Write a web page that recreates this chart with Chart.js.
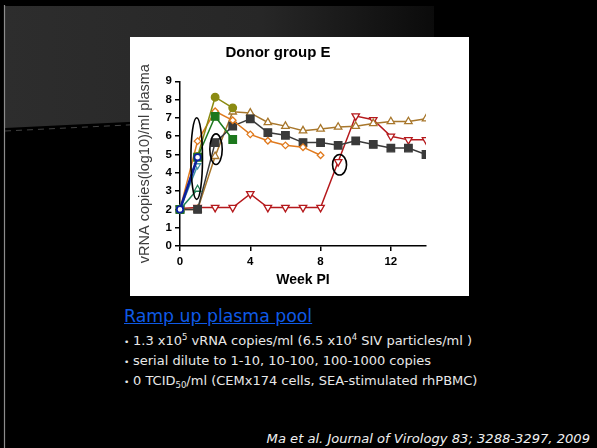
<!DOCTYPE html>
<html>
<head>
<meta charset="utf-8">
<script src="https://cdn.jsdelivr.net/npm/chart.js@4.4.1/dist/chart.umd.min.js"></script>
<style>
  html, body { margin: 0; padding: 0; background: #000; }
  body { width: 597px; height: 448px; position: relative; overflow: hidden; font-family: "DejaVu Sans", sans-serif; }
  #deco { position: absolute; left: 0; top: 0; }
  #chartBox { position: absolute; left: 130px; top: 37px; width: 339px; height: 259px; background: #fff; }
  .heading { position: absolute; left: 124px; top: 308px; font-size: 17.3px; line-height: 17.3px; color: #0f5ae6; text-decoration: underline; white-space: nowrap; }
  .bullet { position: absolute; left: 124px; font-size: 13px; line-height: 20px; color: #e8e8e8; white-space: nowrap; }
  .bullet .dot { display: inline-block; width: 9px; font-size: 9px; }
  .bullet sup { font-size: 8.5px; vertical-align: 5px; line-height: 0; }
  .bullet sub { font-size: 8.5px; vertical-align: -3px; line-height: 0; }
  .cite { position: absolute; right: 7px; top: 432px; font-size: 13.1px; line-height: 13px; font-style: italic; color: #f0f0f0; white-space: nowrap; }
</style>
</head>
<body>
<svg id="deco" width="597" height="448">
  <defs>
    <linearGradient id="band" x1="0" x2="1" y1="0" y2="0">
      <stop offset="0" stop-color="#2d2d2d"/>
      <stop offset="0.6" stop-color="#272727"/>
      <stop offset="1" stop-color="#0b0b0b"/>
    </linearGradient>
  </defs>
  <polygon points="5,6 434,6 434,107 5,128" fill="url(#band)"/>
  <line x1="5" y1="131" x2="434" y2="110" stroke="#9a9a9a" stroke-opacity="0.55" stroke-width="0.8" stroke-dasharray="6,5"/>
  <line x1="4.5" y1="5" x2="4.5" y2="448" stroke="#8c8c8c" stroke-width="1.2"/>
</svg>

<div id="chartBox"><canvas id="chart" width="339" height="259"></canvas></div>

<div class="heading">Ramp up plasma pool</div>
<div class="bullet" style="top:331px"><span class="dot">•</span>1.3 x10<sup>5</sup> vRNA copies/ml (6.5 x10<sup>4</sup> SIV particles/ml )</div>
<div class="bullet" style="top:351px"><span class="dot">•</span>serial dilute to 1-10, 10-100, 100-1000 copies</div>
<div class="bullet" style="top:371px"><span class="dot">•</span>0 TCID<sub>50</sub>/ml (CEMx174 cells, SEA-stimulated rhPBMC)</div>
<div class="cite">Ma et al. Journal of Virology 83; 3288-3297, 2009</div>

<script>
// weeks post infection and the y tick values
const weeks = [0, 1, 2, 3, 4, 5, 6, 7, 8, 9, 10, 11, 12, 13, 14];
const xTickValues = [0, 4, 8, 12];
const yTickValues = [0, 1, 2, 3, 4, 5, 6, 7, 8, 9];

// log10 vRNA copies per animal
const animalBlue = [2.0, 4.85];
const animalTeal = [2.0, 4.4];
const animalGreenTri = [2.0, 3.1];
const animalGreen = [2.0, 4.85, 7.08, 5.82];
const animalOlive = [2.0, 4.9, 8.13, 7.55];
const animalOrange = [2.0, 5.73, 7.36, 6.87, 6.1, 5.75, 5.5, 5.4, 4.96];
const animalBlack = [2.0, 2.0, 5.65, 6.55, 6.95, 6.2, 6.05, 5.65, 5.65, 5.5, 5.75, 5.55, 5.35, 5.35, 5.0];
const animalTan = [2.0, 2.0, 4.9, 7.33, 7.27, 6.75, 6.55, 6.3, 6.4, 6.5, 6.55, 6.7, 6.8, 6.8, 6.95];
const animalRed = [2.05, 2.1, 2.1, 2.1, 2.85, 2.1, 2.1, 2.1, 2.1, 4.6, 7.1, 6.9, 6.0, 5.8, 5.8];

// hand-drawn rings on the slide (centre in data units)
const rings = [
    { week: 0.95, value: 4.78, rx: 5.8, ry: 40.8 },
    { week: 2.05, value: 5.29, rx: 6.2, ry: 15.3 },
    { week: 9.08, value: 4.44, rx: 7, ry: 10.3 }
];

function toPoints(values) {
    return values.map((v, i) => ({ x: weeks[i], y: v }));
}

function series(values, color, style, opts) {
    return Object.assign({
        data: toPoints(values),
        borderColor: color,
        backgroundColor: color,
        pointBorderColor: color,
        pointBackgroundColor: '#fff',
        pointStyle: style,
        pointRadius: 4,
        pointBorderWidth: 1.3,
        borderWidth: 1.5,
        tension: 0,
        clip: { left: 10, top: 10, right: 0, bottom: 10 }
    }, opts || {});
}

const datasets = [
    series(animalBlue, '#0c1f9c', 'circle', { pointRadius: 3.2, borderWidth: 2.6, pointBorderWidth: 1.8 }),
    series(animalTeal, '#3a8ea6', 'triangle', { pointRotation: 180, pointRadius: 3.5 }),
    series(animalGreenTri, '#1f8055', 'triangle', { pointRadius: 4 }),
    series(animalGreen, '#1d781d', 'rect', { pointBackgroundColor: '#1d781d', pointRadius: 5.3 }),
    series(animalOlive, '#8b8b12', 'circle', { pointBackgroundColor: '#8b8b12', pointRadius: 3.8 }),
    series(animalOrange, '#e07a1e', 'rectRot', { pointRadius: 3.3 }),
    series(animalBlack, '#3a3a3a', 'rect', { pointBackgroundColor: '#3a3a3a', pointRadius: 5.3 }),
    series(animalTan, '#a8772c', 'triangle', { pointRadius: 4.3 }),
    series(animalRed, '#b5191c', 'triangle', { pointRotation: 180, pointRadius: 4.3 })
];

const ringPlugin = {
    id: 'rings',
    afterDatasetsDraw(chart) {
        const ctx = chart.ctx;
        const xs = chart.scales.x, ys = chart.scales.y;
        ctx.save();
        ctx.strokeStyle = '#000';
        ctx.lineWidth = 1.6;
        rings.forEach(r => {
            ctx.beginPath();
            ctx.ellipse(xs.getPixelForValue(r.week), ys.getPixelForValue(r.value), r.rx, r.ry, 0, 0, Math.PI * 2);
            ctx.stroke();
        });
        ctx.restore();
    }
};

const tickFont = { family: 'Liberation Sans', size: 11.5, weight: 'bold' };

new Chart(document.getElementById('chart'), {
    type: 'line',
    data: { datasets: datasets },
    plugins: [ringPlugin],
    options: {
        responsive: false,
        animation: false,
        layout: { padding: { left: 0, right: 43, top: 0, bottom: 0 } },
        plugins: {
            legend: { display: false },
            tooltip: { enabled: false },
            title: {
                display: true,
                text: 'Donor group E',
                color: '#000',
                font: { family: 'Liberation Sans', size: 15, weight: 'bold' },
                padding: { top: 7, bottom: 19.3 }
            }
        },
        scales: {
            x: {
                type: 'linear',
                min: 0,
                max: 14,
                afterBuildTicks: s => { s.ticks = xTickValues.map(v => ({ value: v })); },
                afterFit: s => { s.height = 50; },
                grid: { display: true, drawOnChartArea: false, drawTicks: true, tickLength: 5, color: '#000', lineWidth: 1.5 },
                border: { display: true, color: '#000', width: 1.5 },
                ticks: { color: '#000', font: tickFont, padding: 4, maxRotation: 0 },
                title: {
                    display: true,
                    text: 'Week PI',
                    color: '#000',
                    font: { family: 'Liberation Sans', size: 14, weight: 'bold' },
                    padding: { top: 0, bottom: 7.6 }
                }
            },
            y: {
                min: 0,
                max: 9,
                afterBuildTicks: s => { s.ticks = yTickValues.map(v => ({ value: v })); },
                afterFit: s => { s.width = 50; },
                grid: { display: true, drawOnChartArea: false, drawTicks: true, tickLength: 5, color: '#000', lineWidth: 1.5 },
                border: { display: true, color: '#000', width: 1.5 },
                ticks: { color: '#000', font: tickFont, padding: 3 },
                title: {
                    display: true,
                    text: 'vRNA copies(log10)/ml plasma',
                    color: '#3c3c3c',
                    font: { family: 'Liberation Sans', size: 14.5 },
                    padding: { top: 6.3, bottom: 0 }
                }
            }
        }
    }
});
</script>
</body>
</html>
